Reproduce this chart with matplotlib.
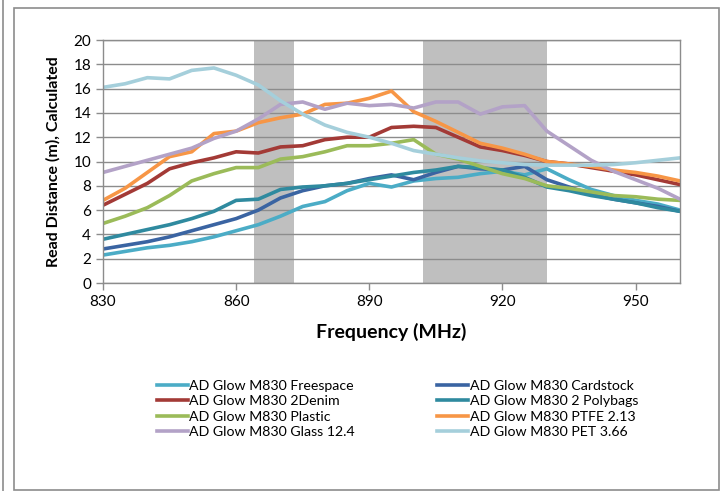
import numpy as np
import matplotlib
matplotlib.use("Agg")
import matplotlib.pyplot as plt
from matplotlib.patches import Rectangle
from matplotlib.lines import Line2D

plt.rcParams['font.family'] = ['Lato', 'DejaVu Sans']

freq = [830, 835, 840, 845, 850, 855, 860, 865, 870, 875, 880, 885, 890, 895,
        900, 905, 910, 915, 920, 925, 930, 935, 940, 945, 950, 955, 960]

freespace = [2.3, 2.6, 2.9, 3.1, 3.4, 3.8, 4.3, 4.8, 5.5, 6.3, 6.7, 7.6, 8.2, 7.9,
             8.4, 8.6, 8.7, 9.0, 9.2, 8.9, 9.4, 8.5, 7.7, 7.2, 6.8, 6.5, 6.0]
cardstock = [2.8, 3.1, 3.4, 3.8, 4.3, 4.8, 5.3, 6.0, 7.0, 7.6, 8.0, 8.2, 8.6, 8.9,
             8.5, 9.1, 9.6, 9.4, 9.3, 9.6, 8.5, 7.9, 7.3, 6.9, 6.6, 6.3, 5.9]
denim = [6.4, 7.3, 8.2, 9.4, 9.9, 10.3, 10.8, 10.7, 11.2, 11.3, 11.8, 12.0, 12.0, 12.8,
         12.9, 12.8, 12.0, 11.2, 10.9, 10.5, 10.0, 9.8, 9.5, 9.2, 8.9, 8.5, 8.1]
polybags = [3.6, 4.0, 4.4, 4.8, 5.3, 5.9, 6.8, 6.9, 7.7, 7.9, 8.0, 8.2, 8.5, 8.8,
            9.1, 9.3, 9.6, 9.5, 9.3, 8.7, 7.9, 7.6, 7.2, 6.9, 6.6, 6.2, 5.9]
plastic = [4.9, 5.5, 6.2, 7.2, 8.4, 9.0, 9.5, 9.5, 10.2, 10.4, 10.8, 11.3, 11.3, 11.5,
           11.8, 10.6, 10.2, 9.6, 9.0, 8.6, 8.0, 7.8, 7.5, 7.2, 7.1, 6.9, 6.8]
ptfe = [6.8, 7.8, 9.1, 10.4, 10.8, 12.3, 12.5, 13.2, 13.6, 13.9, 14.7, 14.8, 15.2, 15.8,
        14.1, 13.3, 12.4, 11.5, 11.1, 10.6, 10.0, 9.8, 9.6, 9.3, 9.1, 8.8, 8.4]
glass = [9.1, 9.6, 10.1, 10.6, 11.1, 11.9, 12.5, 13.5, 14.7, 14.9, 14.3, 14.8, 14.6, 14.7,
         14.4, 14.9, 14.9, 13.9, 14.5, 14.6, 12.5, 11.3, 10.1, 9.2, 8.5, 7.8, 6.9]
pet = [16.1, 16.4, 16.9, 16.8, 17.5, 17.7, 17.1, 16.3, 15.0, 13.9, 13.0, 12.4, 12.0, 11.5,
       10.9, 10.6, 10.3, 10.05, 9.9, 9.75, 9.7, 9.7, 9.7, 9.75, 9.9, 10.1, 10.3]

bands = [(864, 873), (902, 930)]

series = [
    ("AD Glow M830 Freespace", freespace, "#4BACC6"),
    ("AD Glow M830 Cardstock", cardstock, "#3A64A2"),
    ("AD Glow M830 2Denim", denim, "#A33A36"),
    ("AD Glow M830 2 Polybags", polybags, "#2F8A9F"),
    ("AD Glow M830 Plastic", plastic, "#9BBB59"),
    ("AD Glow M830 PTFE 2.13", ptfe, "#F79646"),
    ("AD Glow M830 Glass 12.4", glass, "#B3A2C7"),
    ("AD Glow M830 PET 3.66", pet, "#A5CFDB"),
]

fig = plt.figure(figsize=(7.25, 4.91), dpi=100)
ax = fig.add_axes([0.142, 0.4236, 0.796, 0.4949])

for a, b in bands:
    ax.axvspan(a, b, color="#BFBFBF", zorder=0.2, lw=0)

for name, vals, col in series:
    ax.plot(freq, vals, color=col, lw=2.6, solid_joinstyle="round",
            solid_capstyle="round", label=name, zorder=2)

ax.set_xlim(830, 960)
ax.set_ylim(0, 20)
ax.set_xticks([830, 860, 890, 920, 950])
ax.set_yticks(range(0, 21, 2))
ax.set_axisbelow(True)
ax.yaxis.grid(True, color="#8C8C8C", lw=1.0)
for s in ax.spines.values():
    s.set_color("#8C8C8C")
    s.set_linewidth(1.0)
ax.tick_params(axis="both", colors="#8C8C8C", labelcolor="black", labelsize=11,
               length=5, width=1.0)

ax.set_xlabel("Frequency (MHz)", fontsize=14, fontweight="bold", labelpad=10)
ax.set_ylabel("Read Distance (m), Calculated", fontsize=11.5, fontweight="bold", labelpad=9)

# legend in two columns: left column first four, right column last four
order = [0, 2, 4, 6, 1, 3, 5, 7]
handles = [Line2D([0], [0], color=series[i][2], lw=2.6) for i in order]
labels = [series[i][0] for i in order]
fig.legend(handles, labels, ncol=2, loc="center", bbox_to_anchor=(0.548, 0.167),
           frameon=False, fontsize=10.2, handlelength=2.2, handletextpad=0.1,
           columnspacing=5.8, labelspacing=0.22)

# outer chart frame
fig.patches.append(Rectangle((14 / 725, 1 / 491), 705 / 725, 482 / 491, transform=fig.transFigure,
                             fill=False, edgecolor="#8C8C8C", lw=1.2))
fig.lines.append(Line2D([3 / 725, 3 / 725], [0, 1], transform=fig.transFigure,
                        color="#8C8C8C", lw=1.2))

fig.savefig("out.png", dpi=100)
